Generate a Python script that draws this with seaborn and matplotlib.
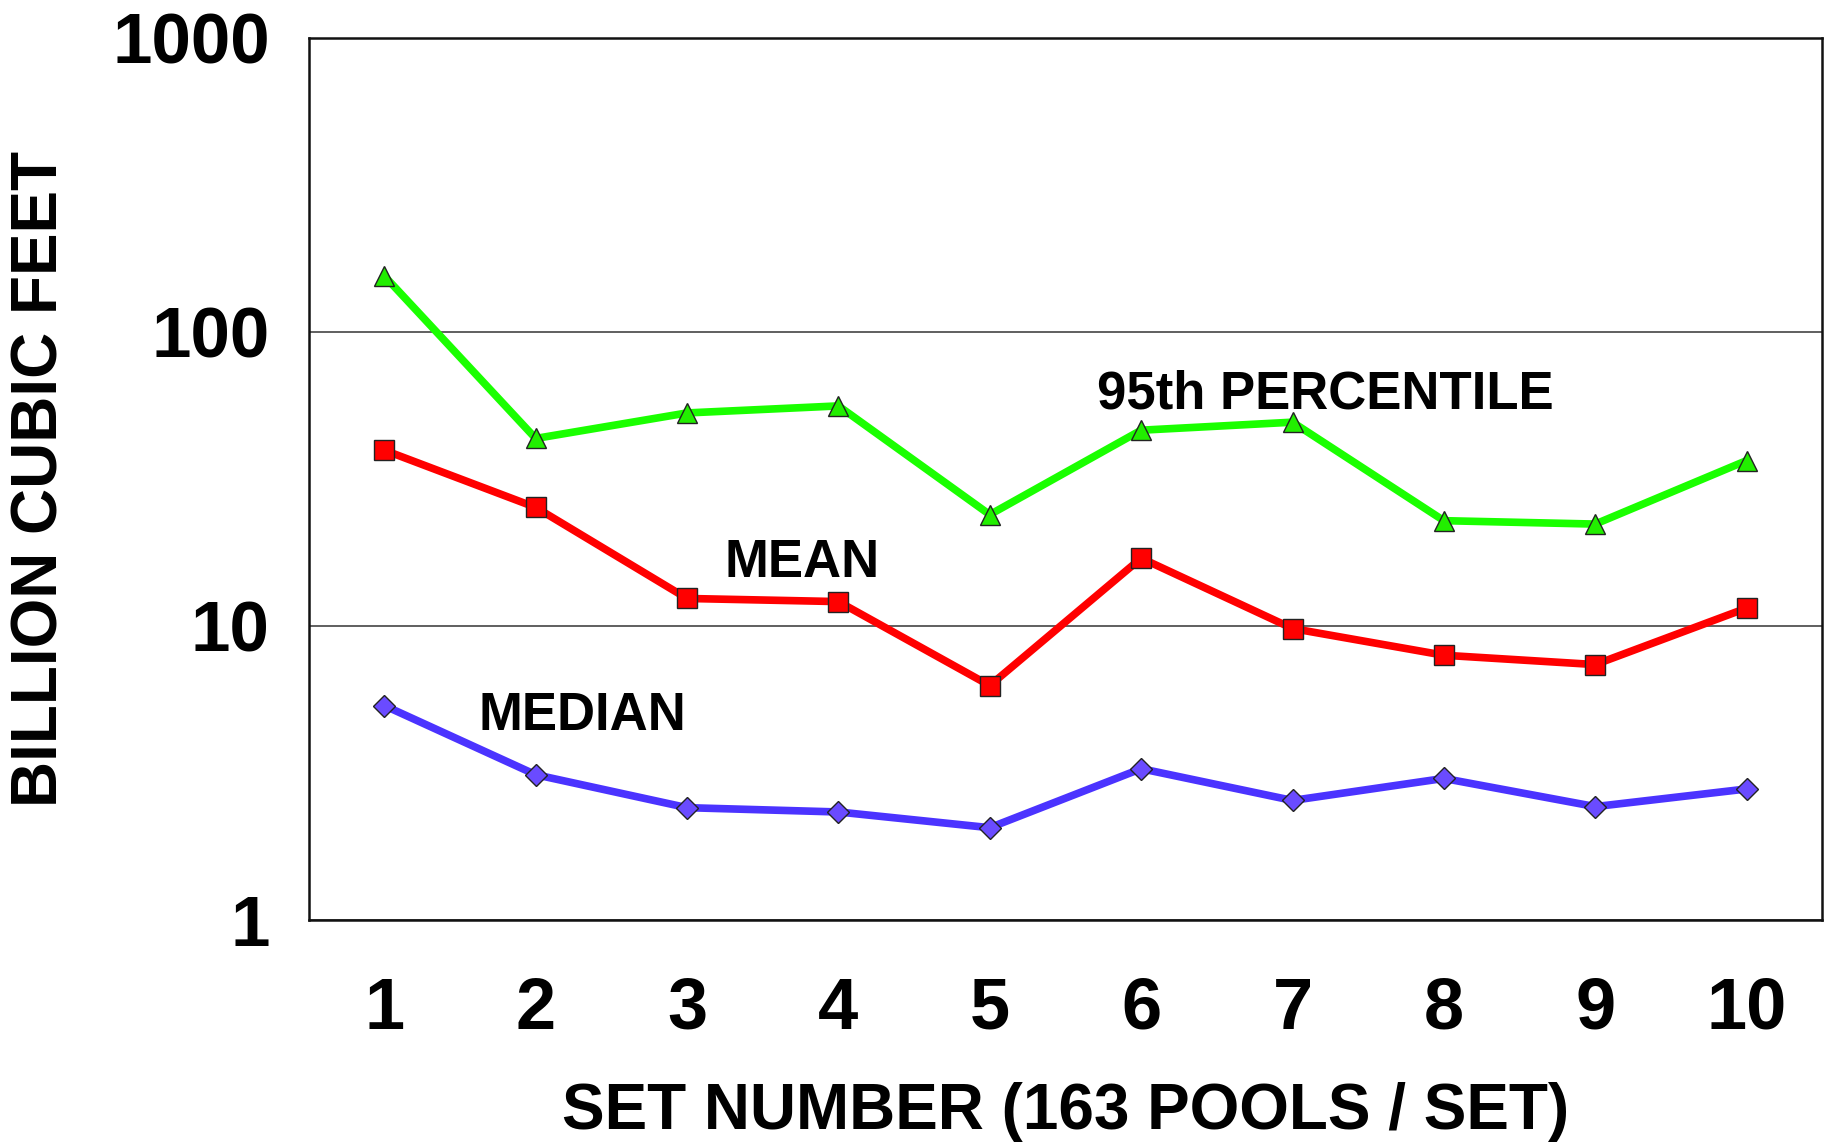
import numpy as np
import pandas as pd
import matplotlib
matplotlib.use("Agg")
import matplotlib.pyplot as plt
from matplotlib.ticker import FixedLocator, NullLocator
import seaborn as sns

# DATA
set_numbers = [1, 2, 3, 4, 5, 6, 7, 8, 9, 10]
pct95 = [155, 43.4, 53, 56, 23.9, 46.3, 49.3, 22.8, 22.2, 36.5]
mean_vals = [39.6, 25.3, 12.4, 12.1, 6.27, 17.0, 9.8, 7.95, 7.39, 11.5]
median_vals = [5.36, 3.12, 2.41, 2.33, 2.06, 3.27, 2.55, 3.03, 2.43, 2.79]
y_ticks = [1, 10, 100, 1000]

df = pd.DataFrame({
    "Set": set_numbers,
    "P95": pct95,
    "Mean": mean_vals,
    "Median": median_vals,
})

# STYLE
sns.set_style("white")
plt.rcParams["font.family"] = ["Liberation Sans", "DejaVu Sans"]
plt.rcParams["font.weight"] = "bold"
plt.rcParams["text.color"] = "black"
plt.rcParams["axes.labelcolor"] = "black"
plt.rcParams["xtick.color"] = "black"
plt.rcParams["ytick.color"] = "black"

fig = plt.figure(figsize=(18.37, 11.45), dpi=100)
ax = fig.add_axes([0.168, 0.1965, 0.824, 0.7705])

series = [
    ("P95", "#1AFF00", "#22EE00", "^", 15),
    ("Mean", "#FF0000", "#FF0000", "s", 14),
    ("Median", "#4B33FF", "#6A4BFF", "D", 11),
]
for col, line_col, face_col, mk, ms in series:
    sns.lineplot(data=df, x="Set", y=col, ax=ax, color=line_col, linewidth=5.5,
                 marker=mk, markersize=ms, markerfacecolor=face_col,
                 markeredgecolor="#222222", markeredgewidth=1.0, zorder=3)

ax.set_yscale("log")
ax.set_ylim(1, 1000)
ax.set_xlim(0.5, 10.5)
ax.yaxis.set_major_locator(FixedLocator(y_ticks))
ax.yaxis.set_minor_locator(NullLocator())
ax.set_yticklabels([str(t) for t in y_ticks])
ax.set_xticks(set_numbers)
ax.set_xticklabels([str(s) for s in set_numbers])

ax.yaxis.grid(True, color="#444444", linewidth=1.2, zorder=0)
ax.xaxis.grid(False)
for sp in ax.spines.values():
    sp.set_color("#111111")
    sp.set_linewidth(1.8)

ax.tick_params(axis="x", length=0, pad=40, labelsize=52)
ax.tick_params(axis="y", length=0, pad=28, labelsize=51)
for lab in ax.get_xticklabels() + ax.get_yticklabels():
    lab.set_fontweight("bold")

ax.set_xlabel("SET NUMBER (163 POOLS / SET)", fontsize=46, fontweight="bold", labelpad=28)
ax.set_ylabel("BILLION CUBIC FEET", fontsize=46, fontweight="bold", labelpad=30)

# Series annotations
ax.text(5.71, 61, "95th PERCENTILE", fontsize=38, fontweight="bold", ha="left", va="center")
ax.text(3.25, 16.4, "MEAN", fontsize=38, fontweight="bold", ha="left", va="center")
ax.text(1.62, 4.93, "MEDIAN", fontsize=38, fontweight="bold", ha="left", va="center")

fig.savefig("out.png", dpi=100)
